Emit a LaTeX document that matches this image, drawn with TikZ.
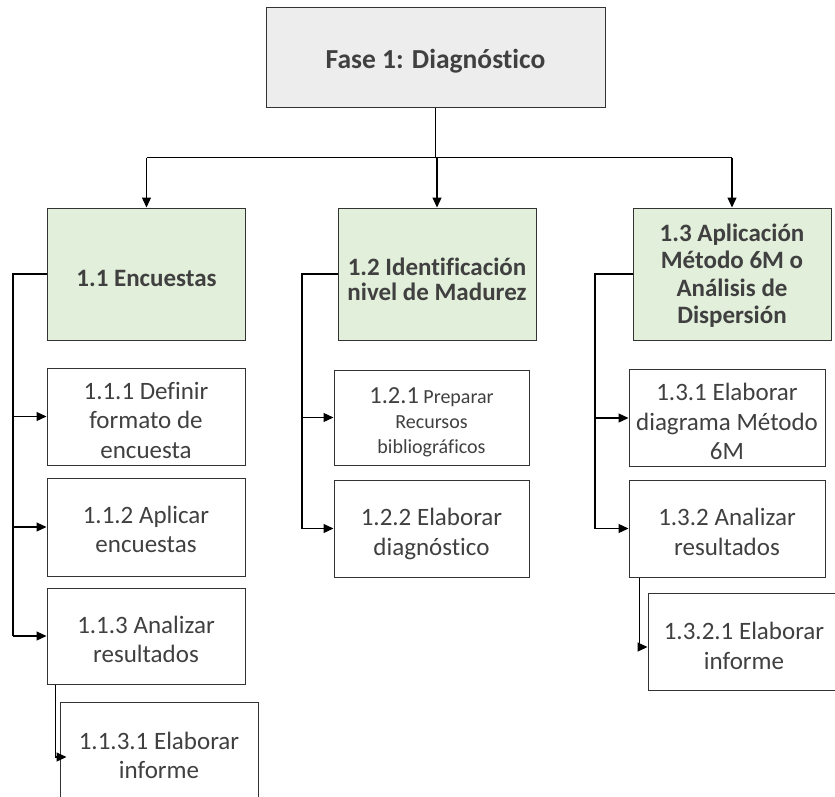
\documentclass[tikz,border=0pt]{standalone}
\usepackage{fontspec}
\setmainfont{Carlito}[Ligatures={NoCommon,NoContextual}]
\usetikzlibrary{arrows.meta}
\definecolor{txtgrey}{HTML}{404040}
\definecolor{topfill}{HTML}{EDEDED}
\definecolor{greenfill}{HTML}{E2EFDA}
\definecolor{edge}{HTML}{333333}
% struts above the first and below the last line fix where the text sits
\newcommand{\padtop}[1][31pt]{\rule{0pt}{#1}}
\newcommand{\padbot}{\rule[-7pt]{0pt}{7pt}}
\tikzset{
  box/.style={draw=edge, line width=1pt, inner sep=0pt, align=center,
    text=txtgrey, font=\fontsize{25}{29.5}\selectfont},
  topbox/.style={box, fill=topfill, minimum width=339pt, minimum height=100pt,
    font=\bfseries\fontsize{27.5}{30}\selectfont},
  greenbox/.style={box, fill=greenfill, minimum width=198pt, minimum height=132pt,
    font=\bfseries\fontsize{25}{25}\selectfont},
  taskbox/.style={box, fill=white, minimum width=198pt, minimum height=96pt},
  link/.style={line width=1.2pt, black},
  arr/.style={link, -{Triangle[length=10pt,width=9pt]}}
}
\begin{document}
\begin{tikzpicture}[x=1pt,y=-1pt]
\useasboundingbox (0,0) rectangle (835,796);
\clip (0,0) rectangle (835,796);
\fill[white] (0,0) rectangle (835,796);

% phase header
\node[topbox] (top) at (435.5,57) {\padtop[29pt]Fase 1: Diagnóstico\padbot};

% work packages
\node[greenbox] (g1) at (146.5,274) {\padtop[31pt]1.1 Encuestas\padbot};
\node[greenbox] (g2) at (437,274) {\padtop[35pt]1.2 Identificación\\nivel de Madurez\padbot};
\node[greenbox, font=\bfseries\fontsize{25}{27.5}\selectfont] (g3) at (732,274)
  {\padtop[24pt]1.3 Aplicación\\Método 6M o\\Análisis de\\Dispersión\padbot};

% tasks of 1.1
\node[taskbox, minimum height=95pt] (n111) at (146,416.5) {\padtop 1.1.1 Definir\\formato de\\encuesta\padbot};
\node[taskbox, minimum height=98pt] (n112) at (146,527) {\padtop[29pt]1.1.2 Aplicar\\encuestas\padbot};
\node[taskbox] (n113) at (146,636) {\padtop 1.1.3 Analizar\\resultados\padbot};
\node[taskbox, minimum height=100pt] (n1131) at (159,752) {\padtop 1.1.3.1 Elaborar\\informe\padbot};

% tasks of 1.2
\node[taskbox, minimum width=195pt, minimum height=95pt, font=\fontsize{20}{25}\selectfont]
  (n121) at (431.5,417.5) {\padtop[28pt]{\fontsize{24.5}{25}\selectfont 1.2.1} Preparar\\Recursos\\bibliográficos\padbot};
\node[taskbox, minimum width=195pt, minimum height=97pt] (n122) at (431.5,528.5) {\padtop 1.2.2 Elaborar\\diagnóstico\padbot};

% tasks of 1.3
\node[taskbox, minimum width=196pt, minimum height=94pt] (n131) at (727,418) {\padtop 1.3.1 Elaborar\\diagrama Método\\6M\padbot};
\node[taskbox, minimum width=196pt, minimum height=97pt] (n132) at (727,528.5) {\padtop 1.3.2 Analizar\\resultados\padbot};
\node[taskbox, minimum width=192pt, minimum height=97pt] (n1321) at (744,641.5) {\padtop[33pt]1.3.2.1 Elaborar\\informe\padbot};

% header to work packages
\coordinate (split) at ([yshift=-50pt]top.south);
\draw[link] (top.south) -- (split);
\draw[link] (g1.north |- split) -- (g3.north |- split);
\draw[arr] (g1.north |- split) -- (g1.north);
\draw[arr] (g2.north |- split) -- (g2.north);
\draw[arr] (g3.north |- split) -- (g3.north);

% side buses
\coordinate (bus1) at (13,0);
\coordinate (bus2) at (302,0);
\coordinate (bus3) at (595,0);
\draw[link] (g1.west) -- (g1.west -| bus1) -- (n113.west -| bus1);
\draw[arr] (n111.west -| bus1) -- (n111.west);
\draw[arr] (n112.west -| bus1) -- (n112.west);
\draw[arr] (n113.west -| bus1) -- (n113.west);

\draw[link] (g2.west) -- (g2.west -| bus2) -- (n122.west -| bus2);
\draw[arr] (n121.west -| bus2) -- (n121.west);
\draw[arr] (n122.west -| bus2) -- (n122.west);

\draw[link] (g3.west) -- (g3.west -| bus3) -- (n132.west -| bus3);
\draw[arr] (n131.west -| bus3) -- (n131.west);
\draw[arr] (n132.west -| bus3) -- (n132.west);

% sub-task links
\draw[arr] ([xshift=-4pt]n113.south -| n1131.west) -- ([xshift=-4pt,yshift=-5pt]n1131.west)
  -- ([xshift=7pt,yshift=-5pt]n1131.west);
\draw[arr] ([xshift=-8pt]n132.south -| n1321.west) -- ([xshift=-8pt,yshift=-5.5pt]n1321.west)
  -- ([yshift=-5.5pt]n1321.west);
\end{tikzpicture}
\end{document}
